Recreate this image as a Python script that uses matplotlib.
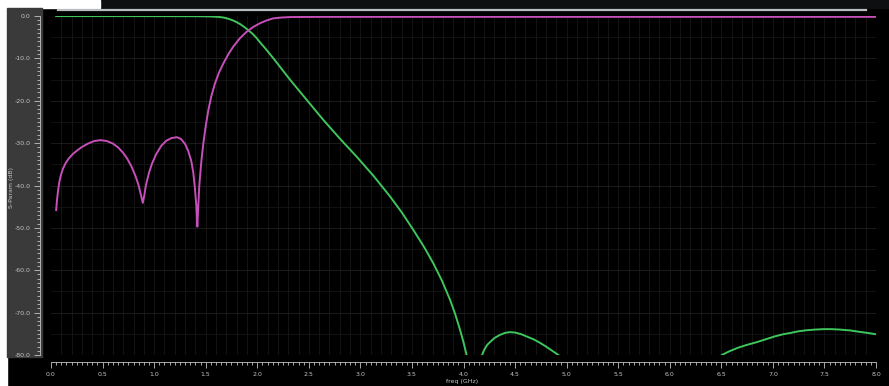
import matplotlib.pyplot as plt
import matplotlib.ticker as mticker
from matplotlib.patches import Rectangle
from matplotlib.lines import Line2D
import numpy as np

# =========================================================================== #
#  SECTION: Data
# =========================================================================== #
# S21 - transmission (green). nan breaks the trace where it drops below -80 dB
s21_freq = [0.05, 1.0, 1.4, 1.5, 1.56, 1.62, 1.67, 1.72, 1.76, 1.80, 1.84, 1.88,
            1.91, 1.95, 1.99, 2.03, 2.08, 2.12, 2.157, 2.24, 2.32, 2.48, 2.64,
            2.80, 2.964, 3.13, 3.288, 3.40, 3.514, 3.62, 3.708, 3.79, 3.87,
            3.92, 3.967, 4.0, 4.03, np.nan,
            4.18, 4.20, 4.23, 4.26, 4.30, 4.35, 4.40, 4.45, 4.50, 4.56, 4.62,
            4.68, 4.74, 4.80, 4.86, 4.92, np.nan,
            6.505, 6.58, 6.66, 6.75, 6.84, 6.93, 7.02, 7.10, 7.17, 7.25, 7.33,
            7.41, 7.49, 7.57, 7.65, 7.75, 7.83, 7.92, 8.0]
s21_db = [-0.02, -0.03, -0.05, -0.08, -0.12, -0.2, -0.35, -0.65, -1.0, -1.45, -2.0, -2.7,
          -3.3, -4.1, -5.1, -6.3, -7.7, -8.9, -10.0, -12.6, -15.1, -19.8, -24.5,
          -28.9, -33.2, -37.8, -42.6, -46.3, -50.5, -54.6, -58.4, -62.4, -67.0,
          -70.4, -74.1, -77.0, -80.0, np.nan,
          -80.0, -78.8, -77.6, -76.9, -76.0, -75.3, -74.8, -74.6, -74.7, -75.1, -75.7,
          -76.3, -77.1, -78.0, -79.0, -80.0, np.nan,
          -80.0, -79.1, -78.3, -77.6, -77.0, -76.3, -75.6, -75.1, -74.8, -74.4, -74.15,
          -74.0, -73.9, -73.9, -74.0, -74.2, -74.5, -74.8, -75.1]

# S11 - reflection (magenta)
s11_freq = [0.05, 0.058, 0.068, 0.08, 0.095, 0.115, 0.14, 0.17, 0.21, 0.25, 0.30,
            0.36, 0.42, 0.48, 0.54, 0.60, 0.65, 0.70, 0.74, 0.78, 0.82, 0.85,
            0.87, 0.89, 0.905, 0.92, 0.95, 0.98, 1.02, 1.07, 1.12, 1.17, 1.22,
            1.26, 1.30, 1.33, 1.36, 1.38, 1.395, 1.41, 1.419, 1.428, 1.437,
            1.445, 1.46, 1.477, 1.50, 1.526, 1.555, 1.59, 1.63, 1.671, 1.72,
            1.768, 1.83, 1.898, 1.96, 2.027, 2.09, 2.157, 2.24, 2.32, 2.6, 8.0]
s11_db = [-45.8, -43.5, -41.3, -39.3, -37.6, -36.1, -34.8, -33.7, -32.6, -31.8, -30.9,
          -30.1, -29.5, -29.3, -29.5, -30.1, -31.0, -32.3, -33.7, -35.5, -37.8, -40.0,
          -42.0, -44.1, -42.3, -40.0, -37.0, -34.8, -32.6, -30.6, -29.4, -28.8, -28.6,
          -29.0, -30.2, -31.8, -34.2, -37.0, -40.5, -45.0, -49.7, -45.0, -40.5,
          -37.9, -33.8, -30.1, -26.0, -22.2, -18.9, -15.9, -13.3, -11.2, -9.0,
          -7.2, -5.3, -3.7, -2.6, -1.7, -1.05, -0.55, -0.35, -0.25, -0.2, -0.2]

y_ticks = [0, -10, -20, -30, -40, -50, -60, -70, -80]
x_ticks = [0.0, 0.5, 1.0, 1.5, 2.0, 2.5, 3.0, 3.5, 4.0, 4.5, 5.0, 5.5, 6.0, 6.5, 7.0, 7.5, 8.0]

# =========================================================================== #
#  SECTION: Figure
# =========================================================================== #
W, H = 889, 386
fig = plt.figure(figsize=(W / 100, H / 100), dpi=100, facecolor='black')


def px(x0, y0, x1, y1):
    # pixel box (top-left origin) -> figure fraction rect
    return (x0 / W, 1 - y1 / H, (x1 - x0) / W, (y1 - y0) / H)


# screenshot chrome: white margin, dark top strip, grey label panel
for box, col in [((0, 0, 7, H), 'white'),
                 ((100, 0, W, 8), '#0d0f10'),
                 ((0, 0, 100, 8), 'white'),
                 ((7, 8, 42, 357), '#3a3a3a')]:
    r = px(*box)
    fig.patches.append(Rectangle(r[:2], r[2], r[3], transform=fig.transFigure,
                                 color=col, zorder=-5))
fig.lines.append(Line2D([58 / W, 866 / W], [1 - 9.5 / H, 1 - 9.5 / H],
                        transform=fig.transFigure, color='#b9bdc1', lw=1.6))

ax = fig.add_axes(px(51, 16, 876, 355))
ax.set_facecolor('black')
ax.set_zorder(2)

ax.plot(s21_freq, s21_db, color='#3ec65c', lw=1.4)
ax.plot(s11_freq, s11_db, color='#c74fb9', lw=1.4)

ax.set_xlim(0, 8)
ax.set_ylim(-80, 0)

# ticks
ax.set_xticks(x_ticks)
ax.set_xticklabels(['%.1f' % v for v in x_ticks])
ax.set_yticks(y_ticks)
ax.set_yticklabels(['%.1f' % v for v in y_ticks])
ax.xaxis.set_minor_locator(mticker.MultipleLocator(0.05))
ax.yaxis.set_minor_locator(mticker.MultipleLocator(1))
ax.tick_params(which='both', colors='#c4c4c4', labelsize=4.5, width=0.6)
ax.tick_params(which='major', length=4.5)
ax.tick_params(which='minor', length=2.2)
ax.tick_params(axis='y', pad=2)
ax.tick_params(axis='x', pad=3)

# grid
for v in np.arange(0.1, 8.0, 0.1):
    ax.axvline(v, color='#171717', lw=0.6, zorder=0)
for v in range(-75, 0, 5):
    ax.axhline(v, color='#202020' if v % 10 == 0 else '#151515', lw=0.6, zorder=0)

for side in ['top', 'right']:
    ax.spines[side].set_visible(False)
ax.spines['left'].set_position(('outward', 8))
ax.spines['bottom'].set_position(('outward', 5))
ax.spines['left'].set_color('#c4c4c4')
ax.spines['bottom'].set_color('#c4c4c4')
ax.spines['left'].set_linewidth(0.6)
ax.spines['bottom'].set_linewidth(0.6)

fig.text(12 / W, 1 - 188 / H, 'S-Param (dB)', rotation=90, color='#c4c4c4',
         fontsize=4.5, ha='center', va='center')
fig.text(462 / W, 1 - 381 / H, 'freq (GHz)', color='#c4c4c4',
         fontsize=4.5, ha='center', va='center')

fig.savefig('out.png', dpi=100, facecolor=fig.get_facecolor())
